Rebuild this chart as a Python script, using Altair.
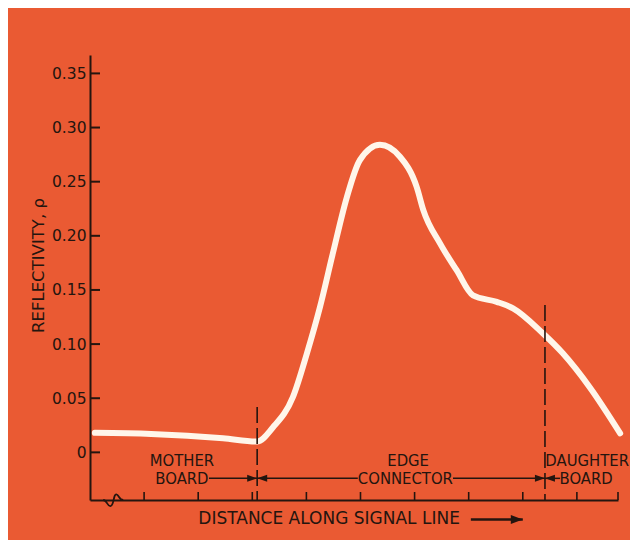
import altair as alt
import pandas as pd

# ---- data ----
curve_x = [0.09, 1.13, 2.46, 3.09, 3.38, 3.75, 4.01, 4.25, 4.49, 4.75, 4.99, 5.36,
           5.73, 6.04, 6.16, 6.47, 6.78, 7.08, 7.52, 7.82, 8.37, 8.74, 9.24, 9.80]
curve_y = [0.018, 0.017, 0.013, 0.010, 0.023, 0.051, 0.0915, 0.134, 0.184, 0.236, 0.270, 0.284,
           0.273, 0.245, 0.224, 0.193, 0.168, 0.145, 0.139, 0.133, 0.110, 0.0915, 0.060, 0.0176]

y_ticks = [0, 0.05, 0.10, 0.15, 0.20, 0.25, 0.30, 0.35]
x_ticks = [1, 2, 3, 4, 5, 6, 7, 8, 9]
x_min, x_max = 0, 9.76
y_min, y_max = -0.044, 0.367

boundaries = [3.09, 8.41]          # mother board / edge connector / daughter board
boundary_tops = [0.042, 0.136]

label_text = ["MOTHER", "BOARD", "EDGE", "CONNECTOR", "DAUGHTER", "BOARD"]
label_x = [1.70, 1.70, 5.88, 5.83, 9.19, 9.17]
label_y = [-0.0083, -0.0250, -0.0083, -0.0250, -0.0083, -0.0250]

# region arrows: start, tip
arrow_from = [2.20, 4.95, 6.71, 8.69]
arrow_to = [3.09, 3.09, 8.41, 8.41]
arrow_y = -0.0240

title_text = "DISTANCE ALONG SIGNAL LINE"
title_x = 4.42
title_y = -0.062
title_arrow_from, title_arrow_to = 7.04, 8.00

break_x = 0.43

BG = "#EA5A33"
INK = "#24150f"
LINE = "#FFF6EA"
FONT = "DejaVu Sans"
FONT_C = "DejaVu Sans Condensed"

# ---- tables ----
curve = pd.DataFrame({"x": curve_x, "y": curve_y})
yt = pd.DataFrame({"y": y_ticks})
xt = pd.DataFrame({"x": x_ticks + [x_max]})
bnd = pd.DataFrame({"x": boundaries, "top": boundary_tops, "bottom": [y_min] * len(boundaries)})
labels = pd.DataFrame({"x": label_x, "y": label_y, "t": label_text})
arrows = pd.DataFrame({"x": arrow_from, "x2": arrow_to, "y": [arrow_y] * len(arrow_from)})
arrows["dir"] = ["right" if b > a else "left" for a, b in zip(arrow_from, arrow_to)]
title_df = pd.DataFrame({"x": [title_x], "y": [title_y], "t": [title_text]})
title_arrow = pd.DataFrame({"x": [title_arrow_from], "x2": [title_arrow_to], "y": [title_y]})
brk = pd.DataFrame({"x": [break_x]})

xs = alt.Scale(domain=[x_min, x_max], nice=False, zero=False)
ys = alt.Scale(domain=[y_min, y_max], nice=False, zero=False)

RIGHT_HEAD = "M0,0L-2,-0.7L-2,0.7Z"
LEFT_HEAD = "M0,0L2,-0.7L2,0.7Z"

base_curve = alt.Chart(curve).mark_line(
    color=LINE, strokeWidth=6, interpolate="monotone", strokeCap="round", clip=False
).encode(
    x=alt.X("x:Q", scale=xs, axis=alt.Axis(
        title=None, labels=False, ticks=False, grid=False, domain=True,
        domainColor=INK, domainWidth=2)),
    y=alt.Y("y:Q", scale=ys, axis=alt.Axis(
        values=y_ticks, title="REFLECTIVITY, ρ", grid=False, ticks=False, tickSize=0,
        labelPadding=4, labelFont=FONT, labelFontSize=15.5, labelColor=INK,
        labelExpr="datum.value == 0 ? '0' : format(datum.value, '.2f')",
        domainColor=INK, domainWidth=2,
        titleFont=FONT, titleFontSize=16.5, titleFontWeight="normal", titleColor=INK,
        titleX=-52, titleY=210, titleAlign="center", titleBaseline="middle")),
)

ytick_marks = alt.Chart(yt).mark_rule(color=INK, strokeWidth=2).encode(
    y=alt.Y("y:Q", scale=ys), x=alt.value(0), x2=alt.value(10))

xtick_marks = alt.Chart(xt).mark_rule(color=INK, strokeWidth=1.6).encode(
    x=alt.X("x:Q", scale=xs), y=alt.value(445), y2=alt.value(437))

dashed = alt.Chart(bnd).mark_rule(color=INK, strokeWidth=1.6, strokeDash=[16, 5]).encode(
    x=alt.X("x:Q", scale=xs), y=alt.Y("top:Q", scale=ys), y2="bottom:Q")

label_marks = alt.Chart(labels).mark_text(
    font=FONT_C, fontSize=16.5, color=INK, align="center",
    baseline="middle", clip=False
).encode(x=alt.X("x:Q", scale=xs), y=alt.Y("y:Q", scale=ys), text="t:N")

arrow_lines = alt.Chart(arrows).mark_rule(color=INK, strokeWidth=1.5).encode(
    x=alt.X("x:Q", scale=xs), x2="x2:Q", y=alt.Y("y:Q", scale=ys))

head_r = alt.Chart(arrows).transform_filter("datum.dir == 'right'").mark_point(
    shape=RIGHT_HEAD, filled=True, color=INK, size=100, opacity=1).encode(
    x=alt.X("x2:Q", scale=xs), y=alt.Y("y:Q", scale=ys))
head_l = alt.Chart(arrows).transform_filter("datum.dir == 'left'").mark_point(
    shape=LEFT_HEAD, filled=True, color=INK, size=100, opacity=1).encode(
    x=alt.X("x2:Q", scale=xs), y=alt.Y("y:Q", scale=ys))

title_mark = alt.Chart(title_df).mark_text(
    font=FONT, fontSize=17, color=INK, align="center",
    baseline="middle", clip=False
).encode(x=alt.X("x:Q", scale=xs), y=alt.Y("y:Q", scale=ys), text="t:N")

title_line = alt.Chart(title_arrow).mark_rule(color=INK, strokeWidth=2.5).encode(
    x=alt.X("x:Q", scale=xs), x2="x2:Q", y=alt.Y("y:Q", scale=ys))
title_head = alt.Chart(title_arrow).mark_point(
    shape="M0,0L-2,-0.75L-2,0.75Z", filled=True, color=INK, size=144, opacity=1).encode(
    x=alt.X("x2:Q", scale=xs), y=alt.Y("y:Q", scale=ys))

break_mark = alt.Chart(brk).mark_point(
    shape="M-1,0C-0.6,0,-0.6,0.7,-0.25,0.6C0.1,0.5,0,-0.7,0.35,-0.55C0.6,-0.45,0.6,0,1,0",
    filled=False, color=INK, strokeWidth=1.8, size=400, opacity=1).encode(
    x=alt.X("x:Q", scale=xs), y=alt.value(445))

chart = alt.layer(
    base_curve, ytick_marks, xtick_marks, dashed, label_marks, arrow_lines,
    head_r, head_l, title_mark, title_line, title_head, break_mark
).properties(
    width=528, height=445,
    autosize=alt.AutoSizeParams(type="none"),
    padding={"left": 82, "top": 47, "right": 12, "bottom": 40},
    background=BG,
).configure_view(stroke=None)

chart.save("out.html", embed_options={"renderer": "svg", "actions": False})
